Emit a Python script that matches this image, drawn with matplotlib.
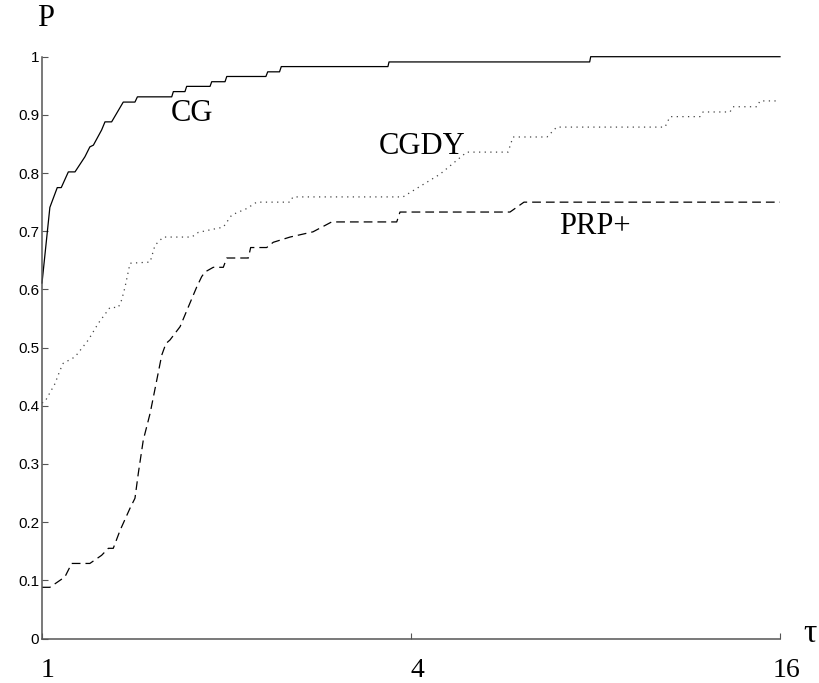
import matplotlib
matplotlib.use('Agg')
import matplotlib.pyplot as plt
import matplotlib.transforms as mtransforms

# Performance profile data (tau, P)
cg_tau = [1, 1.030, 1.059, 1.075, 1.104, 1.132, 1.175, 1.197, 1.213, 1.251,
          1.267, 1.299, 1.357, 1.418, 1.431, 1.628, 1.638, 1.711, 1.722, 1.880,
          1.892, 1.989, 2.002, 2.319, 2.335, 2.441, 2.457, 3.668, 3.683, 7.827,
          7.857, 16]
cg_p = [0.611, 0.741, 0.775, 0.775, 0.802, 0.802, 0.828, 0.845, 0.848, 0.874,
        0.888, 0.888, 0.922, 0.922, 0.931, 0.931, 0.940, 0.940, 0.949, 0.949,
        0.957, 0.957, 0.966, 0.966, 0.974, 0.974, 0.983, 0.983, 0.991, 0.991,
        1.0, 1.0]

cgdy_tau = [1, 1.011, 1.050, 1.070, 1.083, 1.132, 1.190, 1.236, 1.291, 1.332,
            1.349, 1.366, 1.392, 1.501, 1.529, 1.577, 1.755, 1.799, 1.892, 1.976,
            2.040, 2.158, 2.240, 2.539, 2.567, 3.881, 4.137, 4.460, 4.931, 5.759,
            5.868, 6.668, 6.916, 10.387, 10.584, 11.847, 11.982, 13.26, 13.41,
            14.68, 14.84, 16]
cgdy_p = [0.405, 0.407, 0.438, 0.461, 0.473, 0.484, 0.513, 0.542, 0.569, 0.569,
          0.582, 0.604, 0.645, 0.647, 0.676, 0.690, 0.690, 0.698, 0.703, 0.707,
          0.728, 0.739, 0.750, 0.750, 0.759, 0.759, 0.777, 0.798, 0.836, 0.836,
          0.862, 0.862, 0.879, 0.879, 0.897, 0.897, 0.905, 0.905, 0.914,
          0.914, 0.924, 0.924]

prp_tau = [1, 1.030, 1.070, 1.090, 1.118, 1.175, 1.197, 1.251, 1.283, 1.307,
           1.341, 1.392, 1.418, 1.436, 1.463, 1.501, 1.539, 1.568, 1.593, 1.617,
           1.680, 1.733, 1.788, 1.822, 1.845, 1.903, 1.976, 2.002, 2.171, 2.190,
           2.326, 2.384, 2.539, 2.768, 2.969, 3.791, 3.838, 5.802, 6.115, 16]
prp_p = [0.088, 0.088, 0.100, 0.106, 0.129, 0.129, 0.129, 0.143, 0.155, 0.155,
         0.186, 0.224, 0.241, 0.284, 0.341, 0.387, 0.444, 0.487, 0.507, 0.513,
         0.536, 0.570, 0.604, 0.622, 0.630, 0.638, 0.638, 0.654, 0.654, 0.672,
         0.672, 0.681, 0.690, 0.699, 0.716, 0.716, 0.733, 0.733, 0.750, 0.750]

x_ticks = [1, 4, 16]
x_ticklabels = ['1', '4', '16']
y_ticks = [0, 0.1, 0.2, 0.3, 0.4, 0.5, 0.6, 0.7, 0.8, 0.9, 1]
y_ticklabels = ['0', '0.1', '0.2', '0.3', '0.4', '0.5', '0.6', '0.7', '0.8', '0.9', '1']

serif = 'Liberation Serif'

fig = plt.figure(figsize=(8.19, 6.83), dpi=100)
ax = fig.add_axes([42 / 819, 1 - 638.5 / 683, 738 / 819, 581.8 / 683])

# the three solver curves
ax.plot(cg_tau, cg_p, color='black', linewidth=0.9, linestyle='-', clip_on=False)
ax.plot(cgdy_tau, cgdy_p, color='#444444', linewidth=0.9, linestyle=(0, (1, 3.5)), clip_on=False)
ax.plot(prp_tau, prp_p, color='black', linewidth=0.9, linestyle=(0, (7, 4)), clip_on=False)

ax.set_xscale('log', base=2)
ax.set_xlim(1, 16)
ax.set_ylim(0, 1)

# only left and bottom axis lines
ax.spines['right'].set_visible(False)
ax.spines['top'].set_visible(False)
for side in ['left', 'bottom']:
    ax.spines[side].set_color('#555555')
    ax.spines[side].set_linewidth(1.1)

ax.set_xticks(x_ticks)
ax.set_xticklabels(x_ticklabels, fontfamily=serif, fontsize=20)
ax.xaxis.set_minor_locator(matplotlib.ticker.NullLocator())
ax.set_yticks(y_ticks)
ax.set_yticklabels(y_ticklabels, fontfamily='Liberation Sans', fontsize=11)
ax.tick_params(axis='both', direction='in', length=4.5, width=0.8, color='#555555')
ax.tick_params(axis='y', pad=2)
ax.tick_params(axis='x', pad=14)

# nudge x tick labels a bit to the right like the original
offset = mtransforms.ScaledTranslation(6 / 100, 0, fig.dpi_scale_trans)
for lab in ax.get_xticklabels():
    lab.set_transform(lab.get_transform() + offset)

# curve names
ax.text(1.760, 0.903, 'CG', fontfamily=serif, fontsize=22, ha='center', va='center')
ax.text(4.169, 0.846, 'CGDY', fontfamily=serif, fontsize=22, ha='center', va='center')
ax.text(7.985, 0.709, 'PRP+', fontfamily=serif, fontsize=22, ha='center', va='center')

# axis names
fig.text(46 / 819, 1 - 18 / 683, 'P', fontfamily=serif, fontsize=22, ha='center', va='center')
fig.text(810 / 819, 1 - 634 / 683, 'τ', fontfamily=serif, fontsize=24, ha='center', va='center')

plt.savefig('out.png', dpi=100)
